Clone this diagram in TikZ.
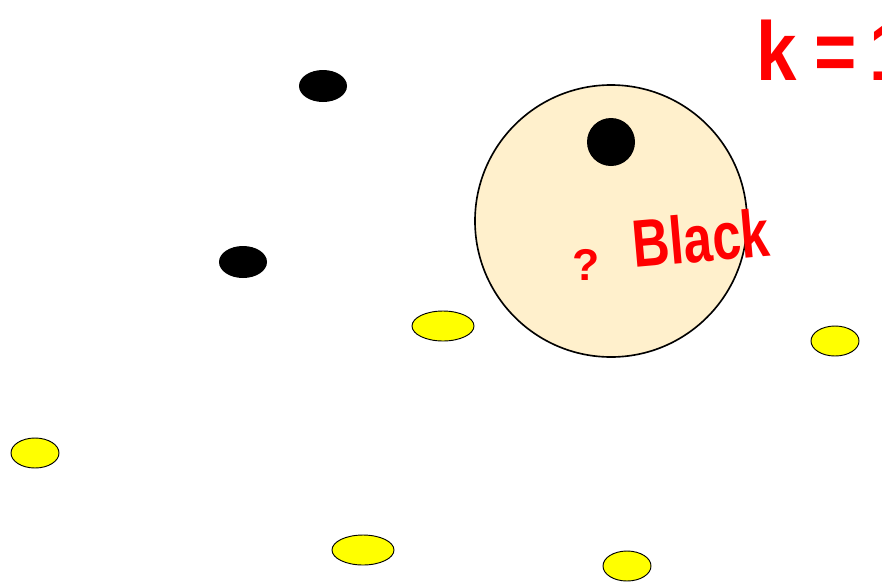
\documentclass[tikz,border=0pt]{standalone}
\usepackage{fontspec}
\usepackage{xcolor}
\definecolor{knnred}{HTML}{FF0000}
\definecolor{knnyellow}{HTML}{FFFF00}
\definecolor{knnarea}{HTML}{FFF0CC}
\newfontfamily\handfont{Liberation Sans}
\usetikzlibrary{shapes.geometric}

\begin{document}
\begin{tikzpicture}[x=0.3mm, y=-0.3mm,
      blackpt/.style={ellipse, fill=black, inner sep=0pt, minimum width=14.4mm, minimum height=9.6mm},
      yellowpt/.style={ellipse, draw=black, line width=0.8pt, fill=knnyellow, inner sep=0pt, minimum height=9mm},
      hand/.style={text=knnred, inner sep=0pt, font=\handfont\bfseries}
    ]
    \useasboundingbox (0,0) rectangle (882,583);
    \node[circle, draw=black, line width=1.4pt, fill=knnarea, inner sep=0pt, minimum size=81.6mm] (area) at (611,221) {};
    \node[circle, fill=black, inner sep=0pt, minimum size=14.4mm] (near) at (611,142) {};

    \node[blackpt] (b1) at (323,86) {};
    \node[blackpt] (b2) at (243,262) {};

    \node[yellowpt, minimum width=18.6mm] (y1) at (443,326) {};
    \node[yellowpt, minimum width=14.4mm] (y2) at (835,341) {};
    \node[yellowpt, minimum width=14.4mm] (y3) at (35,453) {};
    \node[yellowpt, minimum width=18.6mm] (y4) at (363,550) {};
    \node[yellowpt, minimum width=14.4mm] (y5) at (627,566) {};

    \node[hand, anchor=base west, font=\handfont\bfseries\fontsize{38}{38}\selectfont] (query) at (572,280) {?};
    \node[hand, anchor=base west, rotate=5, yscale=1.3, font=\handfont\bfseries\fontsize{44}{44}\selectfont] (label) at (634,268) {Black};
    \node[hand, anchor=base west, yscale=1.15, font=\handfont\bfseries\fontsize{62}{62}\selectfont] (k) at (756,80) {k\hspace{5.5mm}=\hspace{3.5mm}1};
  \end{tikzpicture}
\end{document}
